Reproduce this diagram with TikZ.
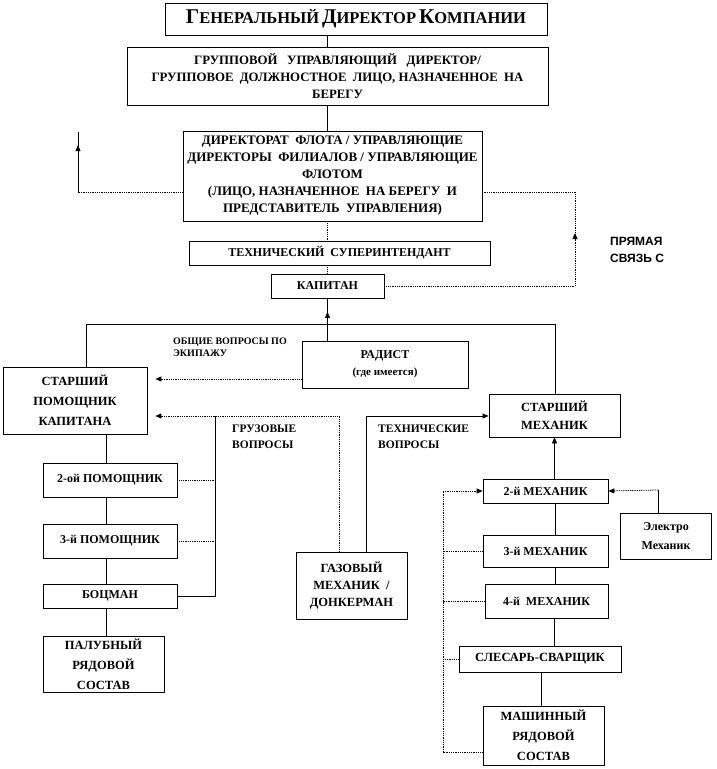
\documentclass[tikz,border=0pt]{standalone}
\usepackage{fontspec}
\setmainfont{Liberation Serif}
\newfontfamily\labelsans{Liberation Sans}
\usetikzlibrary{arrows.meta,positioning,decorations.markings}

\tikzset{
  box/.style={draw,line width=0.7pt,align=center,inner sep=1pt,font=\bfseries\fontsize{12}{17}\selectfont},
  link/.style={line width=0.7pt},
  dotlink/.style={line width=0.8pt,dash pattern=on 1pt off 0.8pt},
  tip/.style={-{Triangle[length=6pt,width=5pt]}},
  midtip/.style={postaction={decorate},decoration={markings,mark=at position #1 with {\arrow{Triangle[length=6pt,width=5pt]}}}},
  note/.style={anchor=north west,align=left,inner sep=0pt,font=\bfseries\fontsize{11.5}{16}\selectfont},
}
\newcommand{\scword}[2]{{\fontsize{21}{22}\selectfont #1}{\fontsize{16.5}{22}\selectfont\MakeUppercase{#2}}}

\begin{document}
\begin{tikzpicture}[x=1pt,y=-1pt]
\useasboundingbox (0,0) rectangle (716,769);

\node[box,minimum width=382,minimum height=32] (ceo) at (356,19) {\scword{Г}{енеральный} \scword{Д}{иректор} \scword{К}{омпании}};
\node[box,minimum width=421,minimum height=58,font=\bfseries\fontsize{12.8}{17}\selectfont] (grpmd) at (337.5,76) {ГРУППОВОЙ\ \ \ УПРАВЛЯЮЩИЙ\ \ \ ДИРЕКТОР/\\ГРУППОВОЕ\ \ ДОЛЖНОСТНОЕ\ \ ЛИЦО, НАЗНАЧЕННОЕ\ \ НА\\БЕРЕГУ};
\node[box,minimum width=299,minimum height=90,font=\bfseries\fontsize{13}{17}\selectfont] (fleet) at (332.5,176) {ДИРЕКТОРАТ\ \ ФЛОТА / УПРАВЛЯЮЩИЕ\\ДИРЕКТОРЫ\ \ ФИЛИАЛОВ / УПРАВЛЯЮЩИЕ\\ФЛОТОМ\\(ЛИЦО, НАЗНАЧЕННОЕ\ \ НА БЕРЕГУ\ \ И\\ПРЕДСТАВИТЕЛЬ\ \ УПРАВЛЕНИЯ)};
\node[box,minimum width=301,minimum height=24] (techsup) at (339.5,253) {ТЕХНИЧЕСКИЙ\ \ СУПЕРИНТЕНДАНТ};
\node[box,minimum width=113,minimum height=24] (captain) at (327.5,286) {КАПИТАН};
\node[box,minimum width=166,minimum height=47] (radio) at (385,364.5) {РАДИСТ\\{\fontsize{11}{14}\selectfont (где имеется)}};
\node[box,minimum width=144,minimum height=67,font=\bfseries\fontsize{12.5}{20}\selectfont] (chmate) at (75,400.5) {СТАРШИЙ\\ПОМОЩНИК\\КАПИТАНА};
\node[box,minimum width=131,minimum height=43,font=\bfseries\fontsize{12.5}{18}\selectfont] (cheng) at (554.5,415.5) {СТАРШИЙ\\МЕХАНИК};
\node[box,minimum width=134,minimum height=34] (mate2) at (110,480) {2-ой ПОМОЩНИК};
\node[box,minimum width=134,minimum height=34] (mate3) at (110,541) {3-й ПОМОЩНИК};
\node[box,minimum width=134,minimum height=24] (bosun) at (110,596) {БОЦМАН};
\node[box,minimum width=121,minimum height=56,font=\bfseries\fontsize{12.5}{20}\selectfont] (deck) at (103.5,664) {ПАЛУБНЫЙ\\РЯДОВОЙ\\СОСТАВ};
\node[box,minimum width=111,minimum height=67,font=\bfseries\fontsize{12.5}{17}\selectfont] (gas) at (351.5,585.5) {ГАЗОВЫЙ\\МЕХАНИК\ \ /\\ДОНКЕРМАН};
\node[box,minimum width=125,minimum height=24] (eng2) at (545.5,491) {2-й МЕХАНИК};
\node[box,minimum width=91,minimum height=46,font=\bfseries\fontsize{12}{19}\selectfont] (electro) at (666,536.5) {Электро\\Механик};
\node[box,minimum width=125,minimum height=32] (eng3) at (545.5,551) {3-й МЕХАНИК};
\node[box,minimum width=123,minimum height=34] (eng4) at (546.5,601) {4-й\ \ МЕХАНИК};
\node[box,minimum width=162,minimum height=26,font=\bfseries\fontsize{12.5}{17}\selectfont] (fitter) at (540,659) {СЛЕСАРЬ-СВАРЩИК};
\node[box,minimum width=121,minimum height=59,font=\bfseries\fontsize{12.5}{20}\selectfont] (engcrew) at (543.5,735.5) {МАШИННЫЙ\\РЯДОВОЙ\\СОСТАВ};

\node[note,font=\bfseries\fontsize{10}{12}\selectfont] (crewnote) at (173,338) {ОБЩИЕ ВОПРОСЫ ПО\\ЭКИПАЖУ};
\node[note] (cargonote) at (232,425) {ГРУЗОВЫЕ\\ВОПРОСЫ};
\node[note] (technote) at (378,425) {ТЕХНИЧЕСКИЕ\\ВОПРОСЫ};
\node[note,font=\labelsans\bfseries\fontsize{12}{17}\selectfont] (directnote) at (610,237) {ПРЯМАЯ\\СВЯЗЬ С};

\coordinate (lft) at (78,192);
\coordinate (lfttop) at (78,132);
\coordinate (rgt) at (575,233);
\coordinate (rgttop) at (575,192);
\coordinate (bar) at (327.5,324);
\coordinate (barl) at (86,324);
\coordinate (barr) at (555,324);
\coordinate (gen) at (155,379);
\coordinate (cargo) at (339,416);
\coordinate (cargov) at (215,416);
\coordinate (tech) at (366,416);
\coordinate (deckx) at (106,0);
\coordinate (brkb) at (443,752);
\coordinate (el) at (658,490);

\draw[link] (ceo.south -| bar) -- (grpmd.north -| bar);
\draw[link] (grpmd.south -| bar) -- (fleet.north -| bar);
\draw[dotlink] (fleet.south -| bar) -- (techsup.north -| bar);
\draw[dotlink] (techsup.south -| bar) -- (captain.north);
\draw[dotlink] (fleet.west |- lft) -- (lft);
\draw[link,midtip=0.78] (lft) -- (lfttop);
\draw[dotlink,tip] (captain.east) -| (rgt);
\draw[dotlink] (rgt) -- (rgttop) -- (fleet.east |- rgttop);

\draw[link,midtip=0.47] (bar) -- (captain.south);
\draw[link] (radio.north -| bar) -- (bar);
\draw[link] (barl |- chmate.north) -- (barl) -- (barr) -- (cheng.north -| barr);
\draw[dotlink,tip,shorten >=8pt] (radio.west |- gen) -- (chmate.east |- gen);

\draw[dotlink,tip,shorten >=8pt] (gas.north -| cargo) -- (cargo) -- (chmate.east |- cargo);
\draw[link] (bosun.east) -| (cargov);
\draw[dotlink] (mate2.east) -- (mate2.east -| cargov);
\draw[dotlink] (mate3.east) -- (mate3.east -| cargov);
\draw[link,tip] (gas.north -| tech) -- (tech) -- (cheng.west |- tech);

\draw[link] (chmate.south -| deckx) -- (mate2.north -| deckx);
\foreach \a/\b in {mate2/mate3,mate3/bosun,bosun/deck}
  \draw[link] (\a.south -| deckx) -- (\b.north -| deckx);

\draw[link,tip] (eng2.north -| cheng) -- (cheng.south);
\draw[link] (eng2.south -| barr) -- (eng3.north -| barr);
\draw[link] (eng3.south -| barr) -- (eng4.north -| barr);
\draw[link] (eng4.south -| 554,0) -- (fitter.north -| 554,0);
\draw[link] (fitter.south -| 541,0) -- (engcrew.north -| 541,0);

\draw[dotlink,tip] (engcrew.west |- brkb) -- (brkb) |- (eng2.west);
\foreach \n in {eng3,eng4,fitter}
  \draw[dotlink] (\n.west) -- (\n.west -| brkb);
\draw[link] (electro.north -| el) -- (el);
\draw[dotlink,tip] (el) -- (eng2.east);
\end{tikzpicture}
\end{document}
